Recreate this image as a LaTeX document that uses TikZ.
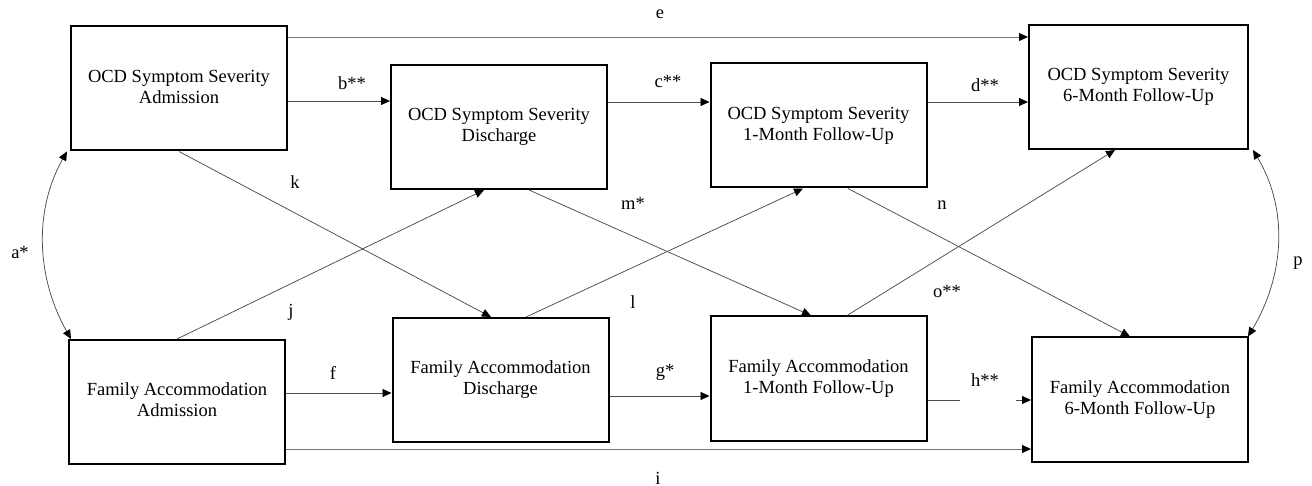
\documentclass[tikz,border=0pt]{standalone}
\usepackage{fontspec}
\setmainfont{Liberation Serif}
\usetikzlibrary{arrows.meta}
\newcommand\bt[2]{\raisebox{4pt}{\begin{tabular}{@{}c@{}}#1\\#2\end{tabular}}}
\begin{document}
\begin{tikzpicture}[x=1pt,y=-1pt,
  every node/.style={font=\fontsize{18.5}{21}\selectfont},
  varbox/.style={draw=black,line width=2pt,minimum width=216pt,minimum height=124pt,inner sep=0pt},
  tip/.tip={Triangle[length=9pt,width=8pt,color=black]},
  conn/.style={draw=black!70,line width=0.75pt,-tip},
  connplain/.style={draw=black!70,line width=0.75pt},
  longconn/.style={draw=black!55,line width=0.9pt,-tip},
  corr/.style={draw=black!70,line width=0.75pt,tip-tip},
  lab/.style={inner sep=1pt}]
\useasboundingbox (0,0) rectangle (1312,486);
% boxes
\node[varbox] (A) at (179,88.5) {\bt{OCD Symptom Severity}{Admission}};
\node[varbox] (B) at (499,127) {\bt{OCD Symptom Severity}{Discharge}};
\node[varbox] (C) at (818.5,125.5) {\bt{OCD Symptom Severity}{1-Month Follow-Up}};
\node[varbox,minimum width=219pt] (D) at (1138.5,87) {\bt{OCD Symptom Severity}{6-Month Follow-Up}};
\node[varbox] (E) at (177,402) {\bt{Family Accommodation}{Admission}};
\node[varbox] (F) at (500.5,380) {\bt{Family Accommodation}{Discharge}};
\node[varbox] (G) at (818.5,378.5) {\bt{Family Accommodation}{1-Month Follow-Up}};
\node[varbox] (H) at (1140,399.5) {\bt{Family Accommodation}{6-Month Follow-Up}};
% horizontal paths
\draw[longconn] ([yshift=51.5pt]A.east) -- ([yshift=51.5pt]A.east -| D.west);
\draw[conn] ([yshift=-12.5pt]A.east) -- ([yshift=-12.5pt]A.east -| B.west);
\draw[conn] ([yshift=25pt]B.east) -- ([yshift=25pt]B.east -| C.west);
\draw[conn] ([yshift=23.5pt]C.east) -- ([yshift=23.5pt]C.east -| D.west);
\draw[conn] ([yshift=9pt]E.east) -- ([yshift=9pt]E.east -| F.west);
\draw[conn] ([yshift=-16pt]F.east) -- ([yshift=-16pt]F.east -| G.west);
\coordinate (h1) at ([xshift=32pt,yshift=-21.5pt]G.east);
\coordinate (h2) at ([xshift=88pt,yshift=-21.5pt]G.east);
\draw[connplain] ([yshift=-21.5pt]G.east) -- (h1);
\draw[conn] (h2) -- (h2 -| H.west);
\draw[longconn] ([yshift=-47pt]E.east) -- ([yshift=-47pt]E.east -| H.west);
% cross paths
\draw[conn] (A.south) -- ([xshift=-9.5pt]F.north);
\draw[conn] (E.north) -- ([xshift=-15pt]B.south);
\draw[conn] ([xshift=25.5pt]F.north) -- ([xshift=-15.5pt]C.south);
\draw[conn] ([xshift=30pt]B.south) -- ([xshift=-7.5pt]G.north);
\draw[conn] ([xshift=29.5pt]C.south) -- ([xshift=-10pt]H.north);
\draw[conn] ([xshift=28.5pt]G.north) -- ([xshift=-23.5pt]D.south);
% correlations
\draw[corr] ([xshift=-3pt]A.south west) .. controls +(-34,60) and +(-34,-60) .. ([xshift=3pt]E.north west);
\draw[corr] ([xshift=4pt]D.south east) .. controls +(36,60) and +(36,-60) .. ([xshift=-1pt]H.north east);
% labels
\node[lab] (la) at (20,253) {a*};
\node[lab] (lb) at (352,83) {b**};
\node[lab] (lc) at (668,82) {c**};
\node[lab] (ld) at (985,85) {d**};
\node[lab] (le) at (660,14) {e};
\node[lab] (lf) at (333,373) {f};
\node[lab] (lg) at (665,372) {g*};
\node[lab] (lh) at (985,380) {h**};
\node[lab] (li) at (658,478) {i};
\node[lab] (lj) at (291,312) {j};
\node[lab] (lk) at (295,182) {k};
\node[lab] (ll) at (633,302) {l};
\node[lab] (lm) at (633,203) {m*};
\node[lab] (ln) at (942,205) {n};
\node[lab] (lo) at (947,292) {o**};
\node[lab] (lp) at (1298,263) {p};
\end{tikzpicture}
\end{document}
